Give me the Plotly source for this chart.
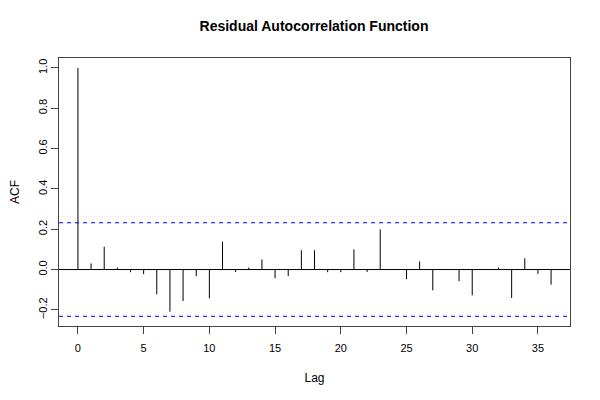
import plotly.graph_objects as go

lags = list(range(0, 37))
acf_values = [1.0, 0.030, 0.113, 0.010, -0.013, -0.023, -0.123, -0.209, -0.156, -0.033,
              -0.143, 0.138, -0.012, 0.010, 0.050, -0.043, -0.033, 0.096, 0.096, -0.013,
              -0.013, 0.100, -0.012, 0.199, 0.003, -0.048, 0.040, -0.103, 0.003, -0.058,
              -0.128, 0.002, 0.010, -0.141, 0.056, -0.022, -0.075]
conf_bound = 0.232
x_ticks = [0, 5, 10, 15, 20, 25, 30, 35]
y_ticks = [-0.2, 0.0, 0.2, 0.4, 0.6, 0.8, 1.0]
y_tick_text = ["\u22120.2", "0.0", "0.2", "0.4", "0.6", "0.8", "1.0"]

xs, ys = [], []
for lag, v in zip(lags, acf_values):
    xs += [lag, lag, None]
    ys += [0, v, None]

fig = go.Figure()
fig.add_trace(go.Scatter(x=xs, y=ys, mode="lines", line=dict(color="black", width=1),
                         hoverinfo="skip", showlegend=False))
for b in (conf_bound, -conf_bound):
    fig.add_shape(type="line", xref="paper", x0=0, x1=1, yref="y", y0=b, y1=b,
                  line=dict(color="blue", width=1, dash="4px,4px"))
fig.add_shape(type="line", xref="paper", x0=0, x1=1, yref="y", y0=0, y1=0,
              line=dict(color="black", width=1))

W, H = 592, 392  # page body has an 8px offset
font = "Liberation Sans, Arial, Helvetica, sans-serif"
fig.update_layout(
    width=W, height=H,
    margin=dict(l=51, r=30, t=50, b=74),
    paper_bgcolor="white", plot_bgcolor="white",
    font=dict(family=font, size=11, color="black"),
    title=dict(text="<b>Residual Autocorrelation Function</b>", x=(314 - 8) / W, xanchor="center",
               y=1 - 18 / H, yanchor="middle", font=dict(size=14, family=font)),
    showlegend=False,
)
fig.update_xaxes(range=[-1.44, 37.44], tickvals=x_ticks, ticktext=[str(t) for t in x_ticks],
                 ticks="outside", ticklen=7, tickcolor="#444", showgrid=False, zeroline=False,
                 showline=True, linecolor="#444", linewidth=1, mirror=True, automargin=False,
                 ticklabelstandoff=5,
                 title=dict(text="Lag", standoff=20, font=dict(size=12)))
fig.update_yaxes(range=[-0.280, 1.049], tickvals=y_ticks, ticktext=y_tick_text, tickangle=-90,
                 ticks="outside", ticklen=7, tickcolor="#444", showgrid=False, zeroline=False,
                 showline=True, linecolor="#444", linewidth=1, mirror=True, automargin=False,
                 title=dict(text="ACF", standoff=19, font=dict(size=12)))

fig.write_html("out.html")
